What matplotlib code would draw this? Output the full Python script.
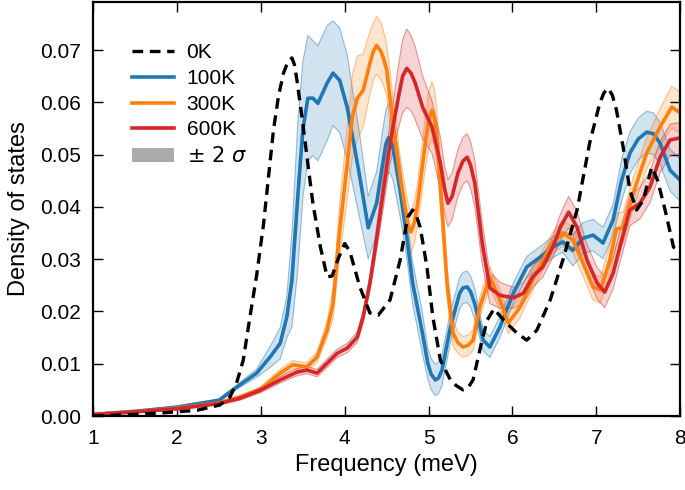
import numpy as np
import matplotlib
matplotlib.use('Agg')
import matplotlib.pyplot as plt
from matplotlib.patches import Patch
from matplotlib.lines import Line2D

plt.rcParams['font.family'] = ['Liberation Sans', 'DejaVu Sans']
plt.rcParams['mathtext.fontset'] = 'dejavusans'

# 0K (dashed, no band)
ok_f = [1.0, 1.36, 1.83, 2.24, 2.51, 2.63, 2.71, 2.79, 2.87, 2.95, 3.03, 3.15, 3.21, 3.27, 3.32,
        3.37, 3.40, 3.43, 3.49, 3.55, 3.62, 3.71, 3.79, 3.85, 3.92, 4.0, 4.06, 4.18, 4.30, 4.40,
        4.54, 4.66, 4.75, 4.81, 4.85, 4.90, 4.98, 5.05, 5.14, 5.26, 5.33, 5.41, 5.47, 5.53, 5.63,
        5.70, 5.78, 5.89, 6.05, 6.17, 6.29, 6.45, 6.60, 6.77, 6.92, 7.04, 7.09, 7.14, 7.19, 7.24,
        7.32, 7.40, 7.48, 7.56, 7.66, 7.73, 7.82, 7.92, 8.0]
ok_v = [0.0, 0.0002, 0.0006, 0.0011, 0.0021, 0.0036, 0.0063, 0.0107, 0.019, 0.027, 0.0365, 0.0547,
        0.0612, 0.0656, 0.0677, 0.0685, 0.0672, 0.0642, 0.0572, 0.0495, 0.0407, 0.0323, 0.0266,
        0.0268, 0.0300, 0.0330, 0.0315, 0.0247, 0.0197, 0.0193, 0.0222, 0.0298, 0.038, 0.0394,
        0.0385, 0.0361, 0.0285, 0.019, 0.0107, 0.0069, 0.0058, 0.005, 0.0054, 0.0069, 0.0140,
        0.0184, 0.0205, 0.0184, 0.0159, 0.0145, 0.0164, 0.0222, 0.0298, 0.0394, 0.0522, 0.0598,
        0.0618, 0.0627, 0.0614, 0.0585, 0.0514, 0.0432, 0.0394, 0.0413, 0.0476, 0.0451, 0.0394,
        0.0323, 0.0315]

# 100K
b_f = [1.0, 1.5, 2.0, 2.5, 2.71, 2.95, 3.11, 3.23, 3.31, 3.37, 3.44, 3.50, 3.56, 3.62, 3.68,
       3.79, 3.86, 3.94, 4.03, 4.10, 4.18, 4.28, 4.38, 4.46, 4.49, 4.52, 4.55, 4.58, 4.66, 4.74,
       4.81, 4.92, 4.99, 5.03, 5.08, 5.12, 5.16, 5.26, 5.37, 5.41, 5.46, 5.50, 5.55, 5.65, 5.73,
       5.85, 6.01, 6.17, 6.33, 6.48, 6.60, 6.72, 6.84, 6.96, 7.08, 7.20, 7.30, 7.40, 7.50, 7.60,
       7.68, 7.76, 7.88, 8.0]
b_v = [0.0003, 0.0009, 0.0017, 0.0030, 0.0055, 0.0082, 0.0113, 0.0139, 0.019, 0.026, 0.042,
       0.0547, 0.0608, 0.0608, 0.0598, 0.0637, 0.0656, 0.0642, 0.059, 0.0528, 0.0457, 0.036,
       0.0407, 0.049, 0.0520, 0.0532, 0.0527, 0.0509, 0.0432, 0.0342, 0.0254, 0.0164, 0.0101,
       0.0080, 0.0069, 0.0073, 0.0088, 0.017, 0.0235, 0.0245, 0.0247, 0.0238, 0.0215, 0.0145,
       0.0132, 0.017, 0.0235, 0.0285, 0.0304, 0.0323, 0.0333, 0.0317, 0.034, 0.0346, 0.0331,
       0.0375, 0.0450, 0.0503, 0.0530, 0.0543, 0.054, 0.0522, 0.047, 0.0451]
b_h = [0.0001, 0.0001, 0.0002, 0.0003, 0.0004, 0.0008, 0.002, 0.003, 0.004, 0.009, 0.014, 0.013,
       0.012, 0.011, 0.011, 0.011, 0.010, 0.010, 0.010, 0.009, 0.008, 0.006, 0.006, 0.0065,
       0.0065, 0.0065, 0.0065, 0.006, 0.005, 0.004, 0.004, 0.004, 0.003, 0.003, 0.003, 0.003,
       0.003, 0.003, 0.003, 0.003, 0.003, 0.003, 0.003, 0.002, 0.002, 0.002, 0.002, 0.002,
       0.002, 0.002, 0.002, 0.003, 0.003, 0.003, 0.003, 0.003, 0.004, 0.004, 0.004, 0.004,
       0.004, 0.004, 0.004, 0.004]

# 300K
o_f = [1.0, 1.5, 2.0, 2.5, 2.75, 2.99, 3.23, 3.38, 3.55, 3.67, 3.79, 3.86, 3.94, 4.03, 4.09,
       4.15, 4.22, 4.30, 4.34, 4.38, 4.43, 4.46, 4.50, 4.58, 4.66, 4.74, 4.76, 4.79, 4.83, 4.87,
       4.96, 5.00, 5.04, 5.07, 5.10, 5.16, 5.22, 5.29, 5.35, 5.41, 5.47, 5.53, 5.61, 5.73, 5.85,
       5.95, 6.09, 6.24, 6.36, 6.48, 6.60, 6.72, 6.84, 6.96, 7.05, 7.16, 7.24, 7.32, 7.44, 7.60,
       7.76, 7.90, 8.0]
o_v = [0.0003, 0.0008, 0.0015, 0.0025, 0.0036, 0.005, 0.0082, 0.0098, 0.0094, 0.0113, 0.0165,
       0.0215, 0.0356, 0.0484, 0.0572, 0.0608, 0.0623, 0.0675, 0.0697, 0.0709, 0.0698, 0.0685,
       0.0662, 0.0553, 0.0457, 0.038, 0.0362, 0.0352, 0.0370, 0.0407, 0.0522, 0.0565, 0.0585,
       0.0570, 0.0533, 0.0394, 0.0254, 0.0159, 0.0140, 0.0132, 0.0135, 0.0145, 0.0208, 0.0266,
       0.0222, 0.0178, 0.0208, 0.026, 0.0298, 0.0331, 0.035, 0.0337, 0.0293, 0.0247, 0.0241,
       0.0298, 0.0358, 0.036, 0.0426, 0.0503, 0.0553, 0.0591, 0.0580]
o_h = [0.0001, 0.0001, 0.0002, 0.0003, 0.0004, 0.0005, 0.0007, 0.0008, 0.0008, 0.001,
       0.0015, 0.003, 0.005, 0.007, 0.008, 0.008, 0.007, 0.006, 0.0055, 0.0055,
       0.0055, 0.0052, 0.005, 0.005, 0.004, 0.004, 0.004, 0.004, 0.004, 0.004,
       0.005, 0.0055, 0.0055, 0.0055, 0.005, 0.004, 0.003, 0.0025, 0.002, 0.002,
       0.002, 0.002, 0.002, 0.002, 0.002, 0.002, 0.002, 0.002, 0.002, 0.002,
       0.0025, 0.0025, 0.0025, 0.0025, 0.0025, 0.003, 0.003, 0.003, 0.003, 0.003,
       0.0035, 0.004, 0.004]

# 600K
r_f = [1.0, 1.5, 2.0, 2.5, 2.75, 3.0, 3.23, 3.43, 3.55, 3.67, 3.79, 3.91, 4.03, 4.15, 4.22,
       4.30, 4.36, 4.44, 4.54, 4.64, 4.69, 4.74, 4.79, 4.84, 4.93, 5.04, 5.14, 5.19, 5.23, 5.28,
       5.35, 5.41, 5.46, 5.50, 5.55, 5.64, 5.73, 5.85, 6.01, 6.13, 6.24, 6.36, 6.48, 6.57, 6.67,
       6.77, 6.89, 7.01, 7.10, 7.20, 7.28, 7.40, 7.52, 7.64, 7.76, 7.88, 8.0]
r_v = [0.0003, 0.0008, 0.0014, 0.0024, 0.0034, 0.005, 0.0069, 0.0084, 0.0088, 0.0082, 0.0101,
       0.012, 0.013, 0.0151, 0.019, 0.0254, 0.0317, 0.0407, 0.0522, 0.061, 0.0650, 0.0665,
       0.0656, 0.0637, 0.059, 0.0553, 0.0484, 0.0435, 0.0407, 0.0420, 0.0465, 0.0488, 0.0495,
       0.0480, 0.0446, 0.033, 0.0245, 0.0231, 0.0226, 0.0235, 0.0266, 0.0285, 0.0323, 0.0361,
       0.039, 0.0361, 0.0298, 0.0254, 0.0237, 0.0273, 0.0323, 0.0394, 0.0407, 0.0438, 0.0495,
       0.0528, 0.0532]
r_h = [0.0001, 0.0001, 0.0002, 0.0003, 0.0004, 0.0005, 0.0006, 0.0007, 0.0007, 0.0007,
       0.0008, 0.0008, 0.0009, 0.001, 0.0012, 0.0015, 0.002, 0.003, 0.004, 0.006,
       0.007, 0.0075, 0.0072, 0.007, 0.006, 0.005, 0.005, 0.0045, 0.0045, 0.0045,
       0.0045, 0.0045, 0.0045, 0.0045, 0.0045, 0.004, 0.003, 0.0025, 0.002, 0.002,
       0.002, 0.002, 0.002, 0.0025, 0.003, 0.003, 0.003, 0.003, 0.003, 0.003,
       0.003, 0.003, 0.003, 0.003, 0.003, 0.003, 0.003]

fig = plt.figure(figsize=(6.85, 4.9), dpi=100)
ax = fig.add_axes([0.136, 0.151, 0.857, 0.845])

series = [(b_f, b_v, b_h, '#1f77b4', '100K'),
          (o_f, o_v, o_h, '#ff7f0e', '300K'),
          (r_f, r_v, r_h, '#d62728', '600K')]

for f, v, h, c, lab in series:
    f = np.array(f); v = np.array(v); h = np.array(h)
    ax.fill_between(f, v - h, v + h, facecolor=c, alpha=0.2, lw=0)
    ax.plot(f, v - h, color=c, lw=0.8, alpha=0.45)
    ax.plot(f, v + h, color=c, lw=0.8, alpha=0.45)
for f, v, h, c, lab in series:
    ax.plot(f, v, color=c, lw=2.6, solid_joinstyle='round')

ax.plot(ok_f, ok_v, color='black', lw=2.4, ls=(0, (3.2, 2.0)))

ax.set_xlim(1, 8)
ax.set_ylim(0, 0.0792)
ax.set_xticks(range(1, 9))
ax.set_yticks(np.arange(0, 0.071, 0.01))
ax.set_yticklabels(['%.2f' % t for t in np.arange(0, 0.071, 0.01)])
ax.tick_params(direction='in', top=True, right=True, length=7, width=1, labelsize=15, pad=9)
for s in ax.spines.values():
    s.set_linewidth(1.6)

ax.set_xlabel('Frequency (meV)', fontsize=17, labelpad=5)
ax.set_ylabel('Density of states', fontsize=17, labelpad=7)

handles = [Line2D([], [], color='black', lw=2.4, ls=(0, (3.2, 2.0))),
           Line2D([], [], color='#1f77b4', lw=2.6),
           Line2D([], [], color='#ff7f0e', lw=2.6),
           Line2D([], [], color='#d62728', lw=2.6),
           Patch(facecolor='#aaaaaa', edgecolor='none')]
labels = ['0K', '100K', '300K', '600K', r'$\pm\ 2\ \sigma$']
ax.legend(handles, labels, loc='upper left', bbox_to_anchor=(0.035, 0.945), frameon=False,
          fontsize=15, handlelength=2.0, labelspacing=0.32, handletextpad=0.6)

fig.savefig('out.png', dpi=100)
